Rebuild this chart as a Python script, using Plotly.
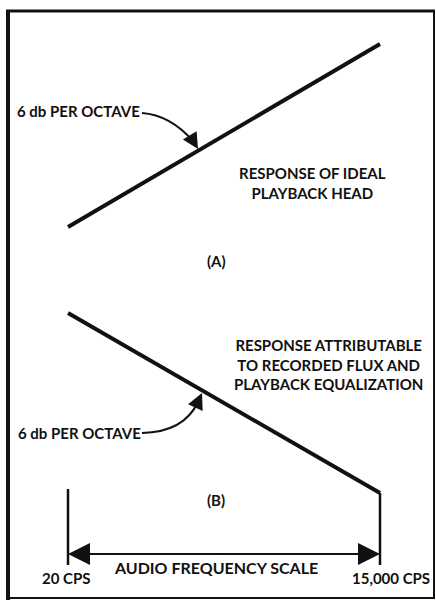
"""
Resposta de cabeça de reprodução ideal x resposta do fluxo gravado + equalização.
"""
import math

import plotly.graph_objects as go

W, H = 436, 602

# Dados: faixa de frequência (cps) e resposta (dB), 6 dB por oitava
freq_cps = [20, 15000]
resp_a_db = [0.0, 57.3]
resp_b_db = [0.0, -57.3]

freq_labels = ["20 CPS", "15,000 CPS"]
slope_label = "6 db PER OCTAVE"
title_a = "RESPONSE OF IDEAL<br>PLAYBACK HEAD"
title_b = "RESPONSE ATTRIBUTABLE<br>TO RECORDED FLUX AND<br>PLAYBACK EQUALIZATION"
scale_label = "AUDIO FREQUENCY SCALE"

# Posições (pixels)
X20_PX, X15K_PX = 68, 380
A_ZERO_PX, A_TOP_PX = 227, 44
B_ZERO_PX, B_END_PX = 313, 493
MARK_TOP_PX, MARK_BOT_PX = 489, 565
SCALE_Y_PX = 554

FONT = "Lato"
INK = "#111111"


def px(x):
    return x / W


def py(y):
    return 1 - y / H


# Eixo x logarítmico alinhado com os pixels
lx0, lx1 = math.log10(freq_cps[0]), math.log10(freq_cps[-1])
per_px = (lx1 - lx0) / (X15K_PX - X20_PX)
x_range = [lx0 - X20_PX * per_px, lx1 + (W - X15K_PX) * per_px]

k_a = (A_ZERO_PX - A_TOP_PX) / (resp_a_db[-1] - resp_a_db[0])
k_b = (B_END_PX - B_ZERO_PX) / (resp_b_db[0] - resp_b_db[-1])
ya_range = [(A_ZERO_PX - H) / k_a, A_ZERO_PX / k_a]
yb_range = [(B_ZERO_PX - H) / k_b, B_ZERO_PX / k_b]


def db_b(ypix):
    return (B_ZERO_PX - ypix) / k_b


line_style = dict(color=INK, width=4)
mark_style = dict(color=INK, width=2.5)

fig = go.Figure()
fig.add_trace(go.Scatter(x=freq_cps, y=resp_a_db, mode="lines", line=line_style, yaxis="y"))
fig.add_trace(go.Scatter(x=freq_cps, y=resp_b_db, mode="lines", line=line_style, yaxis="y2"))

# Marcas verticais nos extremos da escala
fig.add_trace(
    go.Scatter(
        x=[freq_cps[0]] * 2,
        y=[db_b(MARK_TOP_PX), db_b(MARK_BOT_PX)],
        mode="lines",
        line=mark_style,
        yaxis="y2",
    )
)
fig.add_trace(
    go.Scatter(
        x=[freq_cps[-1]] * 2,
        y=[resp_b_db[-1], db_b(MARK_BOT_PX)],
        mode="lines",
        line=mark_style,
        yaxis="y2",
    )
)

# Moldura
frame = [
    (8, 10, 8, 600, 4),
    (6, 11, 435, 11, 3),
    (434, 11, 434, 599, 2),
    (8, 598, 434, 598, 2),
]
for x0, y0, x1, y1, w in frame:
    fig.add_shape(
        type="line", xref="paper", yref="paper",
        x0=px(x0), y0=py(y0), x1=px(x1), y1=py(y1),
        line=dict(color=INK, width=w),
    )

# Setas curvas "6 db PER OCTAVE"
curves = [
    ((142, 113), (170, 115), (193, 141), (198, 149), -6, -10),
    ((142, 433), (184, 432), (198, 402), (202, 393), -5, 11),
]
for (x0, y0), (cx, cy), (x1, y1), (tx, ty), ax, ay in curves:
    fig.add_shape(
        type="path", xref="paper", yref="paper",
        path=f"M {px(x0)},{py(y0)} Q {px(cx)},{py(cy)} {px(x1)},{py(y1)}",
        line=dict(color=INK, width=2),
    )
    fig.add_annotation(
        x=px(tx), y=py(ty), xref="paper", yref="paper", text="",
        showarrow=True, ax=ax, ay=ay, arrowhead=2, arrowsize=1.6,
        arrowwidth=2, arrowcolor=INK, standoff=0,
    )

# Escala de frequência com setas nas duas pontas
for f, dx in [(freq_cps[0], 160), (freq_cps[-1], -160)]:
    fig.add_annotation(
        x=math.log10(f), y=py(SCALE_Y_PX), xref="x", yref="paper", text="",
        showarrow=True, ax=dx, ay=0, arrowhead=2, arrowsize=2.2,
        arrowwidth=2, arrowcolor=INK, standoff=0,
    )

texts = [
    (slope_label, 15, 111, "left", 15),
    (slope_label, 16, 433, "left", 15),
    (title_a, 312, 183, "center", 15),
    ("(A)", 216, 261, "center", 15),
    (title_b, 328, 364, "center", 15),
    ("(B)", 216, 500, "center", 15),
    (scale_label, 216, 567, "center", 16),
    (freq_labels[0], 66, 578, "center", 15),
    (freq_labels[1], 391, 578, "center", 15),
]
for txt, x, y, anchor, size in texts:
    fig.add_annotation(
        x=px(x), y=py(y), xref="paper", yref="paper",
        text=f"<b>{txt}</b>", showarrow=False, xanchor=anchor, yanchor="middle",
        align="center", font=dict(family=FONT, size=size, color=INK),
    )

fig.update_layout(
    width=W,
    height=H,
    margin=dict(l=0, r=0, t=0, b=0),
    showlegend=False,
    plot_bgcolor="white",
    paper_bgcolor="white",
    xaxis=dict(type="log", range=x_range, visible=False, fixedrange=True),
    yaxis=dict(range=ya_range, visible=False, fixedrange=True),
    yaxis2=dict(range=yb_range, visible=False, overlaying="y", fixedrange=True),
)

fig.write_html(
    "out.html",
    config={"displayModeBar": False},
    post_script="document.body.style.margin='0';",
)
